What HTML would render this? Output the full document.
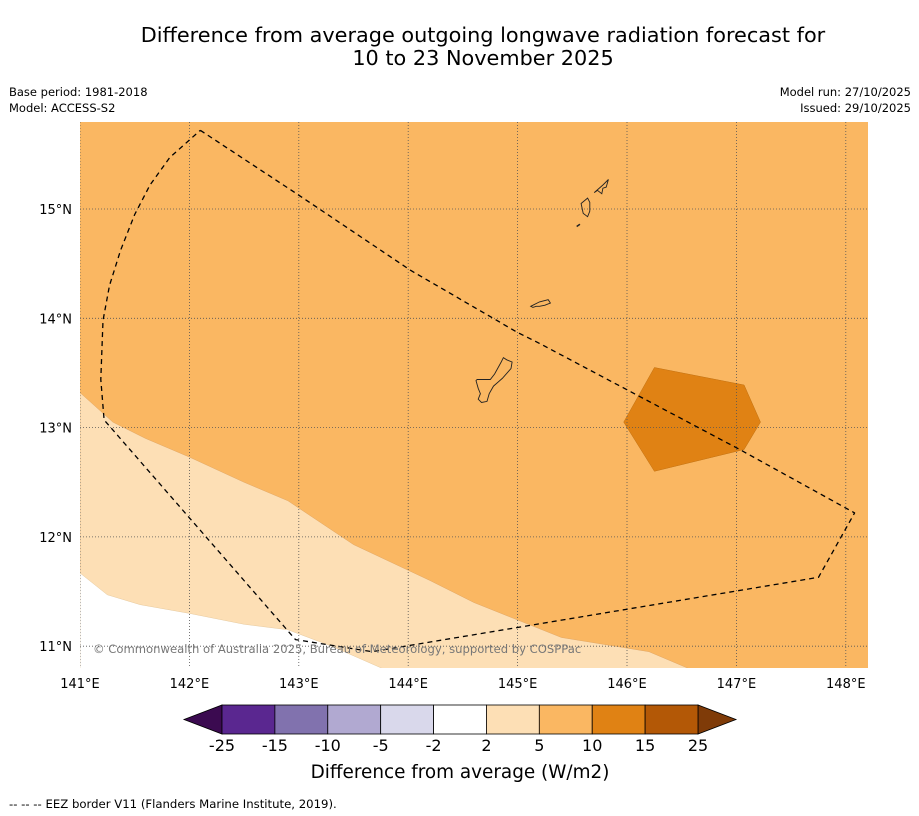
<!DOCTYPE html>
<html><head><meta charset="utf-8">
<style>
body{margin:0;background:#fff;width:919px;height:816px;overflow:hidden;font-family:"DejaVu Sans","Liberation Sans",sans-serif;}
svg{display:block;font-family:"DejaVu Sans","Liberation Sans",sans-serif;}
</style></head>
<body>
<svg id="chart" width="919" height="816" xmlns="http://www.w3.org/2000/svg">
<text x="483" y="42" text-anchor="middle" font-size="20.8">Difference from average outgoing longwave radiation forecast for</text>
<text x="483" y="65" text-anchor="middle" font-size="20.8">10 to 23 November 2025</text>
<text x="9" y="96" font-size="11.5">Base period: 1981-2018</text>
<text x="9" y="112" font-size="11.5">Model: ACCESS-S2</text>
<text x="911" y="96" font-size="11.5" text-anchor="end">Model run: 27/10/2025</text>
<text x="911" y="112" font-size="11.5" text-anchor="end">Issued: 29/10/2025</text>
<defs><clipPath id="mapclip"><rect x="80" y="122" width="788" height="546"/></clipPath></defs>
<g id="map" clip-path="url(#mapclip)"></g>
<g id="axes"></g>
<g id="cbar"></g>
<text x="460" y="778" text-anchor="middle" font-size="18.4">Difference from average (W/m2)</text>
<text x="9" y="808" font-size="11.7">--  --  -- EEZ border V11 (Flanders Marine Institute, 2019).</text>
</svg>
<script>
const lonTicks=[141,142,143,144,145,146,147,148];
const latTicks=[11,12,13,14,15];
const lightTop=[[141,13.32],[141.3,13.05],[141.6,12.9],[142,12.73],[142.5,12.5],[142.9,12.33],[143.5,11.93],[144.2,11.6],[144.6,11.4],[145.4,11.08],[146.2,10.95],[146.6,10.78]];
const whiteTop=[[141,11.67],[141.25,11.47],[141.55,11.38],[142,11.3],[142.5,11.2],[142.9,11.15],[143.3,11.0],[143.8,10.78]];
const darkPoly=[[146.25,13.55],[147.07,13.39],[147.22,13.05],[147.07,12.8],[146.25,12.6],[145.97,13.05]];
const eez=[[142.10,15.72],[143.01,15.12],[144.02,14.44],[145.0,13.87],[145.2,13.77],[147.03,12.80],[148.08,12.22],[147.75,11.63],[143.67,10.95],[142.97,11.06],[141.22,13.07],[141.19,13.44],[141.21,13.98],[141.27,14.30],[141.37,14.62],[141.50,14.95],[141.64,15.22],[141.82,15.47],[142.10,15.72]];
const guam=[[144.63,13.44],[144.75,13.44],[144.79,13.49],[144.85,13.6],[144.87,13.64],[144.9,13.62],[144.95,13.6],[144.94,13.54],[144.86,13.45],[144.78,13.38],[144.74,13.31],[144.72,13.24],[144.67,13.23],[144.64,13.26],[144.66,13.31],[144.64,13.36],[144.62,13.43]];
const rota=[[145.12,14.11],[145.2,14.15],[145.28,14.17],[145.3,14.14],[145.25,14.12],[145.2,14.11],[145.17,14.11],[145.14,14.1]];
const tinian=[[145.58,15.05],[145.64,15.1],[145.66,15.06],[145.66,14.98],[145.64,14.93],[145.6,14.96]];
const saipan=[[145.7,15.15],[145.78,15.22],[145.83,15.27],[145.81,15.2],[145.78,15.19],[145.77,15.14],[145.73,15.17]];
const cbVals=["-25","-15","-10","-5","-2","2","5","10","15","25"];
const cbColors=["#5a2790","#8172ae","#b1a9d1","#d9d8eb","#ffffff","#fddfb5","#fab762","#e08214","#b35806"];
const NS="http://www.w3.org/2000/svg";
function xS(lon){return 80+(lon-141)*109.4;}
function yS(lat){return 209-(lat-15)*109.3;}
function mk(tag,attrs,parent){const e=document.createElementNS(NS,tag);for(const k in attrs)e.setAttribute(k,attrs[k]);parent.appendChild(e);return e;}
function pts(a){return a.map(p=>xS(p[0]).toFixed(1)+","+yS(p[1]).toFixed(1)).join(" ");}
const map=document.getElementById('map');
let r=mk('rect',{x:80,y:122,width:788,height:546,fill:'#fab762'},map);


let p=mk('polygon',{points:pts(lightTop.concat([[146.6,10.5],[141,10.5]])),fill:'#fddfb5',stroke:'#d9a060','stroke-width':0.4},map);


p=mk('polygon',{points:pts(whiteTop.concat([[143.8,10.5],[141,10.5]])),fill:'#ffffff',stroke:'#e0c090','stroke-width':0.4},map);


p=mk('polygon',{points:pts(darkPoly),fill:'#e08214',stroke:'#c07010','stroke-width':0.5},map);


lonTicks.forEach(l=>{const g=mk('line',{x1:xS(l),x2:xS(l),y1:122,y2:668,stroke:'#555','stroke-width':0.8,'stroke-dasharray':'1,2'},map);

});
latTicks.forEach(l=>{const g=mk('line',{x1:80,x2:868,y1:yS(l),y2:yS(l),stroke:'#555','stroke-width':0.8,'stroke-dasharray':'1,2'},map);

});
[guam,rota,tinian,saipan].forEach((isl,i)=>{const q=mk('polygon',{points:pts(isl),fill:'none',stroke:'#222','stroke-width':0.9},map);

});
const aguijan=mk('line',{x1:xS(145.54),y1:yS(14.84),x2:xS(145.57),y2:yS(14.86),stroke:'#222','stroke-width':1.5},map);


p=mk('polyline',{points:pts(eez),fill:'none',stroke:'#000','stroke-width':1.3,'stroke-dasharray':'5,4','stroke-linejoin':'round'},map);


const cp=mk('text',{x:93,y:653,'font-size':11.6,fill:'#777'},map);
cp.textContent='© Commonwealth of Australia 2025, Bureau of Meteorology, supported by COSPPac';


const axes=document.getElementById('axes');
lonTicks.forEach(l=>{const t=mk('text',{x:xS(l),y:688,'font-size':13,'text-anchor':'middle'},axes);t.textContent=l+'°E';

});
latTicks.forEach(l=>{const t=mk('text',{x:72,y:yS(l)+5,'font-size':13,'text-anchor':'end'},axes);t.textContent=l+'°N';

});
const cb=document.getElementById('cbar');
const x0=222,x1=698,w=(x1-x0)/cbColors.length,y0=705,h=29;
let tl=mk('polygon',{points:`${x0},${y0} ${x0},${y0+h} 184,${y0+h/2}`,fill:'#3b0a50',stroke:'#000','stroke-width':0.8},cb);


let tr=mk('polygon',{points:`${x1},${y0} ${x1},${y0+h} 736,${y0+h/2}`,fill:'#7f3b08',stroke:'#000','stroke-width':0.8},cb);


cbColors.forEach((c,i)=>{const b=mk('rect',{x:x0+i*w,y:y0,width:w,height:h,fill:c,stroke:'#000','stroke-width':0.8},cb);

});
cbVals.forEach((v,i)=>{const t=mk('text',{x:x0+i*w,y:751,'font-size':16,'text-anchor':'middle'},cb);t.textContent=v;

});
</script>
</body></html>
